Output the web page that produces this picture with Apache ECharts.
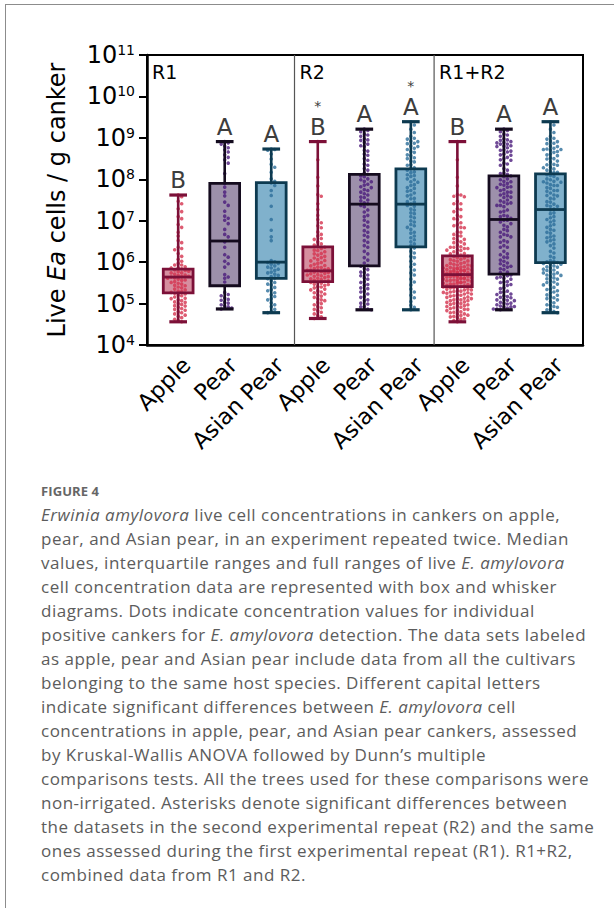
<!DOCTYPE html>
<html>
<head>
<meta charset="utf-8">
<script src="https://cdn.jsdelivr.net/npm/echarts@6/dist/echarts.min.js"></script>
<style>
  html, body { margin: 0; padding: 0; background: #fff; width: 614px; height: 908px; overflow: hidden; }
  #frame { position: absolute; left: 5px; top: 4px; width: 700px; height: 1000px;
           border-left: 1px solid #8c8c8c; border-top: 1px solid #8c8c8c; }
  #chart { position: absolute; left: 0; top: 0; width: 614px; height: 475px; }
  #caption { position: absolute; left: 41px; top: 479px; width: 572px; white-space: nowrap;
             font-family: "Open Sans", Lato, sans-serif; color: #5c5c5c; font-size: 17px;
             letter-spacing: 0.5px; line-height: 24px; }
  #caption .fig { font-size: 13px; font-weight: 700; color: #666; letter-spacing: 0.1px; }
</style>
</head>
<body>
<div id="frame"></div>
<div id="chart"></div>
<div id="caption">
  <div class="fig">FIGURE 4</div>
  <i>Erwinia amylovora</i> live cell concentrations in cankers on apple,<br>
  pear, and Asian pear, in an experiment repeated twice. Median<br>
  values, interquartile ranges and full ranges of live <i>E. amylovora</i><br>
  cell concentration data are represented with box and whisker<br>
  diagrams. Dots indicate concentration values for individual<br>
  positive cankers for <i>E. amylovora</i> detection. The data sets labeled<br>
  as apple, pear and Asian pear include data from all the cultivars<br>
  belonging to the same host species. Different capital letters<br>
  indicate significant differences between <i>E. amylovora</i> cell<br>
  concentrations in apple, pear, and Asian pear cankers, assessed<br>
  by Kruskal-Wallis ANOVA followed by Dunn’s multiple<br>
  comparisons tests. All the trees used for these comparisons were<br>
  non-irrigated. Asterisks denote significant differences between<br>
  the datasets in the second experimental repeat (R2) and the same<br>
  ones assessed during the first experimental repeat (R1). R1+R2,<br>
  combined data from R1 and R2.
</div>
<script>
// ---- data (concentrations as log10 of cells / g canker) ----
const categories = ['Apple', 'Pear', 'Asian Pear', 'Apple', 'Pear', 'Asian Pear', 'Apple', 'Pear', 'Asian Pear'];
const panelNames = ['R1', 'R2', 'R1+R2'];
const letters = ['B', 'A', 'A', 'B', 'A', 'A', 'B', 'A', 'A'];
const asterisks = ['', '', '', '*', '', '*', '', '', ''];

const boxMin    = [4.56, 4.87, 4.78, 4.64, 4.85, 4.85, 4.56, 4.85, 4.78];
const boxQ1     = [5.26, 5.43, 5.61, 5.53, 5.91, 6.37, 5.41, 5.71, 5.99];
const boxMedian = [5.64, 6.51, 6.00, 5.79, 7.40, 7.40, 5.70, 7.03, 7.27];
const boxQ3     = [5.83, 7.90, 7.92, 6.37, 8.12, 8.25, 6.15, 8.08, 8.13];
const boxMax    = [7.62, 8.91, 8.73, 8.91, 9.21, 9.39, 8.91, 9.21, 9.39];

const r1Apple = [7.62, 7.58, 7.47, 7.41, 7.29, 7.22, 7.10, 7.05, 6.91, 6.84, 6.72, 6.63, 6.52, 6.47, 6.36, 6.33, 6.30, 6.21, 6.14, 6.07, 6.02,
  5.97, 5.93, 5.93, 5.89, 5.86, 5.86, 5.84, 5.81, 5.80, 5.78, 5.77, 5.74, 5.74, 5.71, 5.69, 5.68, 5.66, 5.65, 5.64, 5.62, 5.61, 5.59, 5.57,
  5.56, 5.53, 5.51, 5.49, 5.47, 5.44, 5.43, 5.40, 5.38, 5.35, 5.33, 5.30, 5.29, 5.27,
  5.25, 5.23, 5.20, 5.19, 5.16, 5.13, 5.12, 5.09, 5.07, 5.04, 5.03, 5.00, 4.98, 4.95, 4.94, 4.91, 4.88, 4.86, 4.84, 4.80, 4.78, 4.75,
  4.72, 4.69, 4.66, 4.62, 4.59, 4.56];
const r1Pear = [8.91, 8.88, 8.85, 8.80, 8.76, 8.71, 8.66, 8.59, 8.53, 8.47, 8.39, 8.14, 7.90, 7.81, 7.69, 7.60, 7.45, 7.37, 7.23, 7.11,
  7.06, 7.01, 6.93, 6.79, 6.67, 6.61, 6.49, 6.36, 6.18, 6.12, 6.02, 5.96, 5.88, 5.70, 5.64, 5.61, 5.52, 5.27, 5.22, 5.19, 5.14, 5.10,
  5.08, 5.03, 5.01, 4.97, 4.94, 4.92, 4.89, 4.87];
const r1Asian = [8.73, 8.72, 8.70, 8.61, 8.49, 8.36, 8.29, 8.17, 8.01, 7.95, 7.91, 7.85, 7.73, 7.61, 7.35, 7.03, 6.77, 6.61, 6.52, 6.04,
  6.01, 5.99, 5.97, 5.95, 5.91, 5.88, 5.86, 5.83, 5.80, 5.76, 5.74, 5.71, 5.68, 5.65, 5.62, 5.60, 5.55, 5.51, 5.47, 5.45, 5.39, 5.34,
  5.31, 5.26, 5.21, 5.17, 5.12, 5.09, 5.02, 4.97, 4.93, 4.86, 4.81, 4.78];
const r2Apple = [8.91, 8.47, 8.05, 7.84, 7.63, 7.59, 7.41, 7.27, 7.13, 7.03, 6.95, 6.88, 6.83, 6.73, 6.67, 6.63, 6.57, 6.55, 6.49, 6.44, 6.41,
  6.37, 6.36, 6.33, 6.29, 6.28, 6.25, 6.21, 6.20, 6.17, 6.14, 6.11, 6.10, 6.06, 6.04, 6.03, 5.99, 5.97, 5.95, 5.92, 5.91, 5.88, 5.87,
  5.85, 5.84, 5.82, 5.81, 5.80, 5.79, 5.79, 5.77, 5.76, 5.75, 5.73, 5.72, 5.70, 5.69, 5.67, 5.66, 5.65, 5.63, 5.61, 5.60, 5.58, 5.57,
  5.55, 5.54, 5.52, 5.51, 5.49, 5.47, 5.46, 5.44, 5.41, 5.40, 5.38, 5.35, 5.33, 5.31, 5.28, 5.26, 5.23, 5.21, 5.18, 5.15, 5.12, 5.09,
  5.07, 5.03, 5.00, 4.97, 4.93, 4.90, 4.86, 4.83, 4.79, 4.75, 4.71, 4.68, 4.64];
const r2Pear = [9.21, 9.18, 9.15, 9.09, 9.07, 9.04, 8.98, 8.95, 8.94, 8.89, 8.85, 8.81, 8.79, 8.70, 8.68, 8.61, 8.58, 8.50, 8.46, 8.37,
  8.34, 8.26, 8.22, 8.15, 8.12, 8.08, 8.06, 8.01, 7.99, 7.95, 7.94, 7.88, 7.86, 7.82, 7.80, 7.75, 7.73, 7.69, 7.65, 7.62, 7.57, 7.56,
  7.50, 7.48, 7.43, 7.41, 7.37, 7.34, 7.26, 7.21, 7.13, 7.10, 7.01, 6.97, 6.89, 6.85, 6.76, 6.72, 6.65, 6.61, 6.52, 6.48, 6.40, 6.36,
  6.26, 6.20, 6.11, 6.05, 5.98, 5.92, 5.90, 5.84, 5.82, 5.76, 5.75, 5.69, 5.67, 5.62, 5.59, 5.53, 5.51, 5.46, 5.44, 5.38, 5.36, 5.30,
  5.28, 5.23, 5.17, 5.15, 5.09, 5.07, 5.01, 4.99, 4.93, 4.92, 4.87, 4.85];
const r2Asian = [9.39, 9.31, 9.21, 9.13, 9.04, 8.99, 8.97, 8.92, 8.91, 8.87, 8.86, 8.80, 8.79, 8.75, 8.72, 8.67, 8.65, 8.59, 8.57, 8.52,
  8.50, 8.44, 8.42, 8.35, 8.34, 8.28, 8.25, 8.22, 8.18, 8.16, 8.11, 8.09, 8.07, 8.01, 7.99, 7.94, 7.93, 7.87, 7.85, 7.80, 7.78, 7.73,
  7.71, 7.67, 7.62, 7.60, 7.54, 7.53, 7.46, 7.45, 7.40, 7.37, 7.35, 7.28, 7.26, 7.19, 7.17, 7.10, 7.07, 7.00, 6.97, 6.91, 6.88, 6.84,
  6.79, 6.72, 6.70, 6.63, 6.59, 6.54, 6.49, 6.44, 6.40, 6.34, 6.26, 6.22, 6.14, 6.11, 6.02, 5.95, 5.89, 5.81, 5.74, 5.69, 5.59, 5.52,
  5.45, 5.35, 5.28, 5.20, 5.14, 5.05, 4.96, 4.91, 4.85];

// R1+R2 pools both repeats
const groups = [r1Apple, r1Pear, r1Asian, r2Apple, r2Pear, r2Asian,
  r1Apple.concat(r2Apple), r1Pear.concat(r2Pear), r1Asian.concat(r2Asian)];

// ---- styling ----
const FONT = '"DejaVu Sans", sans-serif';
const dotColors  = ['#d4334f', '#4b1c7c', '#2c6e9a'];
const fillColors = ['#d68e9f', '#9d90ab', '#80b1cc'];
const lineColors = ['#7c1038', '#140b1e', '#0d3a50'];
const GRID = { left: 147, top: 55, width: 436, height: 290 };
const X_MIN = -0.67, X_MAX = 8.7;
const Y_MIN_EXP = 4, Y_MAX_EXP = 11;
const BOX_W = 0.64, CAP_W = 0.38;

const pxPerUnit = GRID.width / (X_MAX - X_MIN);
const pxPerDecade = GRID.height / (Y_MAX_EXP - Y_MIN_EXP);

// deterministic column scatter: each dot takes the nearest free horizontal slot
function swarm(vals, center) {
  const sorted = vals.slice().sort((a, b) => b - a);
  const d = 3.5, maxSlots = 4;
  const placed = [], out = [];
  for (const v of sorted) {
    const py = v * pxPerDecade;
    let best = 0, bestHits = Infinity;
    for (let k = 0; k <= maxSlots * 2; k++) {
      const off = (k % 2 ? 1 : -1) * Math.ceil(k / 2) * d;
      let hits = 0;
      for (const p of placed) {
        if (Math.abs(p.py - py) < d && Math.abs(p.ox - off) < d) hits++;
      }
      if (hits < bestHits) { bestHits = hits; best = off; }
      if (hits === 0) break;
    }
    placed.push({ py, ox: best });
    out.push([center + best / pxPerUnit, Math.pow(10, v)]);
  }
  return out;
}

const dotSeries = [0, 1, 2].map(sp => {
  let data = [];
  for (let i = sp; i < 9; i += 3) data = data.concat(swarm(groups[i], i));
  return {
    type: 'scatter', z: 3, symbolSize: 3.6, silent: true,
    itemStyle: { color: dotColors[sp] }, data
  };
});

const boxData = categories.map((c, i) => [i,
  Math.pow(10, boxMin[i]), Math.pow(10, boxQ1[i]), Math.pow(10, boxMedian[i]),
  Math.pow(10, boxQ3[i]), Math.pow(10, boxMax[i])]);

function halfWidth(api, i, y, w) {
  return (api.coord([i + w / 2, y])[0] - api.coord([i - w / 2, y])[0]) / 2;
}

function renderFill(params, api) {
  const i = api.value(0), sp = i % 3;
  const top = api.coord([i, api.value(4)]);
  const bot = api.coord([i, api.value(2)]);
  const hw = halfWidth(api, i, api.value(3), BOX_W);
  return { type: 'rect', shape: { x: top[0] - hw, y: top[1], width: hw * 2, height: bot[1] - top[1] },
           style: { fill: fillColors[sp] } };
}

function renderOutline(params, api) {
  const i = api.value(0), sp = i % 3, col = lineColors[sp];
  const pMin = api.coord([i, api.value(1)]);
  const pQ1 = api.coord([i, api.value(2)]);
  const pMed = api.coord([i, api.value(3)]);
  const pQ3 = api.coord([i, api.value(4)]);
  const pMax = api.coord([i, api.value(5)]);
  const hw = halfWidth(api, i, api.value(3), BOX_W);
  const cw = halfWidth(api, i, api.value(3), CAP_W);
  const x = pMed[0];
  const ln = (x1, y1, x2, y2, w) => ({ type: 'line', shape: { x1, y1, x2, y2 }, style: { stroke: col, lineWidth: w } });
  const children = [
    ln(x, pMax[1], x, pQ3[1], 2.6),
    ln(x, pQ1[1], x, pMin[1], 2.6),
    ln(x - cw, pMax[1], x + cw, pMax[1], 3.2),
    ln(x - cw, pMin[1], x + cw, pMin[1], 3.2),
    { type: 'rect', shape: { x: x - hw, y: pQ3[1], width: hw * 2, height: pQ1[1] - pQ3[1] },
      style: { fill: null, stroke: col, lineWidth: 2.8 } },
    ln(x - hw, pMed[1], x + hw, pMed[1], 2.8),
    // significance letter just above the upper whisker
    { type: 'text', x: x, y: pMax[1] - 3,
      style: { text: letters[i], fill: '#3d3d3d', fontSize: 23, fontFamily: FONT, lineHeight: 24,
               align: 'center', verticalAlign: 'bottom' } }
  ];
  if (asterisks[i]) {
    // repeat-difference asterisk stacked over the letter
    children.push({ type: 'text', x: x, y: pMax[1] - 31,
      style: { text: asterisks[i], fill: '#3d3d3d', fontSize: 14, fontFamily: FONT, lineHeight: 10,
               align: 'center', verticalAlign: 'bottom' } });
  }
  return { type: 'group', children };
}

// panel edges on the x scale: left frame and the two dividers
const panelEdges = [X_MIN, 2.5, 5.5];
function renderPanel(params, api) {
  const idx = params.dataIndex;
  const top = api.coord([api.value(0), Math.pow(10, Y_MAX_EXP)]);
  const bot = api.coord([api.value(0), Math.pow(10, Y_MIN_EXP)]);
  const children = [{ type: 'text', x: top[0] + 5, y: top[1] + 7,
    style: { text: panelNames[idx], fill: '#000', font: '19px ' + FONT, align: 'left', verticalAlign: 'top' } }];
  if (idx > 0) {
    children.push({ type: 'line', shape: { x1: top[0], y1: top[1], x2: bot[0], y2: bot[1] },
      style: { stroke: '#555', lineWidth: 1.2 } });
  }
  return { type: 'group', children };
}

const chart = echarts.init(document.getElementById('chart'), null, { renderer: 'svg' });
chart.setOption({
  animation: false,
  grid: Object.assign({ show: true, borderColor: '#000', borderWidth: 2, backgroundColor: 'transparent',
                        containLabel: false, outerBoundsMode: 'none' }, GRID),
  xAxis: {
    type: 'value', min: X_MIN, max: X_MAX,
    splitLine: { show: false }, axisTick: { show: false },
    axisLine: { onZero: false, lineStyle: { color: '#000', width: 2.5 } },
    axisLabel: {
      customValues: categories.map((c, i) => i),
      formatter: v => categories[Math.round(v)] || '',
      rotate: 45, margin: 8, verticalAlign: 'top',
      fontSize: 22.5, fontFamily: FONT, color: '#000'
    }
  },
  yAxis: {
    type: 'log', logBase: 10, min: Math.pow(10, Y_MIN_EXP), max: Math.pow(10, Y_MAX_EXP),
    splitLine: { show: false }, minorTick: { show: false },
    axisLine: { show: true, onZero: false, lineStyle: { color: '#000', width: 2.5 } },
    axisTick: { show: true, length: 8, lineStyle: { color: '#000', width: 2 } },
    axisLabel: {
      margin: 12,
      formatter: v => '{b|10}{e|' + Math.round(Math.log10(v)) + '}',
      rich: {
        b: { fontSize: 24, fontFamily: FONT, color: '#000' },
        e: { fontSize: 14, fontFamily: FONT, color: '#000', verticalAlign: 'top' }
      }
    },
    name: '{n|Live }{i|Ea}{n| cells / g canker}',
    nameLocation: 'middle', nameGap: 78, nameRotate: 90,
    nameTextStyle: {
      rich: {
        n: { fontSize: 24, fontFamily: FONT, color: '#000' },
        i: { fontSize: 24, fontFamily: FONT, fontStyle: 'italic', color: '#000' }
      }
    }
  },
  series: [
    { type: 'custom', z: 1, silent: true, data: boxData, renderItem: renderFill,
      encode: { x: 0, y: [1, 2, 3, 4, 5] } },
    ...dotSeries,
    { type: 'custom', z: 5, silent: true, clip: false, data: boxData, renderItem: renderOutline,
      encode: { x: 0, y: [1, 2, 3, 4, 5] } },
    { type: 'custom', z: 6, silent: true, clip: false,
      data: panelEdges.map(e => [e, Math.pow(10, Y_MAX_EXP)]), renderItem: renderPanel,
      encode: { x: 0, y: 1 } }
  ]
});
</script>
</body>
</html>
